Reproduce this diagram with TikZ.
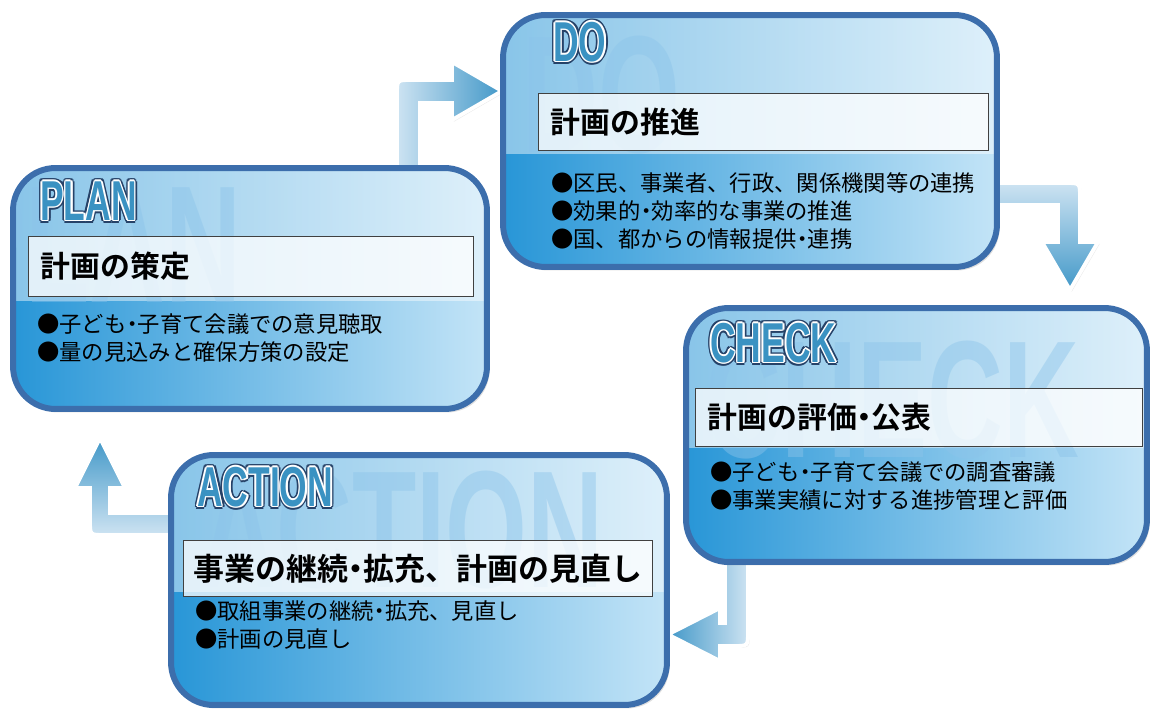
\documentclass[tikz,border=0pt]{standalone}
\usepackage{fontspec}
\setmainfont{Noto Sans CJK JP}[BoldFont={Noto Sans CJK JP Bold}]
\newfontfamily\headfont{Liberation Sans}
\usetikzlibrary{calc,shadows,backgrounds}

\definecolor{boxline}{RGB}{60,110,172}
\definecolor{boxdark}{RGB}{40,150,215}
\definecolor{boxlight}{RGB}{195,228,247}
\definecolor{headfill}{RGB}{58,146,194}
\definecolor{headline}{RGB}{38,66,104}
\definecolor{markblue}{RGB}{140,196,234}
\definecolor{arrowlight}{RGB}{205,227,242}
\definecolor{arrowdark}{RGB}{66,152,200}

\tikzset{
	phasebox/.style={draw=boxline, line width=3.4pt, rounded corners=0.85cm,
		left color=boxdark, right color=boxlight,
		drop shadow={opacity=0.25, shadow xshift=1.5pt, shadow yshift=-2pt},
		path picture={\fill[white, opacity=0.45, sharp corners]
			(path picture bounding box.north west) rectangle
			($(path picture bounding box.north east)!0.55!(path picture bounding box.south east)$);}},
	titlebox/.style={draw=black!75, line width=0.7pt, fill=white, fill opacity=0.75,
		text opacity=1, anchor=north west, inner xsep=0.24cm, inner ysep=0, align=left,
		font=\bfseries\fontsize{17}{17}\selectfont},
	itemlist/.style={anchor=north west, inner sep=0, align=left,
		font=\fontsize{12.7}{15.9}\selectfont},
	watermark/.style={anchor=west, inner sep=0, text=markblue, text opacity=0.45,
		font=\headfont\bfseries\fontsize{95}{95}\selectfont},
	headlabel/.style={anchor=west, inner sep=0,
		font=\headfont\bfseries\fontsize{32}{32}\selectfont},
	arrowpath/.style={draw=white, line width=2.2pt,
		drop shadow={opacity=0.18, shadow xshift=1pt, shadow yshift=-1pt}}
}

% narrow middle dot
\newcommand{\dotsep}{\makebox[0.5em]{・}}

% outlined heading: dark rim, white rim, blue letters
\newcommand{\phasehead}[3]{%
	\foreach \a in {0,30,...,330}
		\path (#2) ++(\a:1.8pt) node[headlabel, text=headline] {\scalebox{0.63}[1]{#3}};
	\foreach \a in {0,45,...,315}
		\path (#2) ++(\a:0.9pt) node[headlabel, text=white] {\scalebox{0.63}[1]{#3}};
	\path (#2) node[headlabel, text=headfill] (#1) {\scalebox{0.63}[1]{#3}};
}

\begin{document}
\begin{tikzpicture}[x=0.02cm, y=-0.02cm]
\useasboundingbox (0,0) rectangle (1161,713);

% the four phases
\path (250,288.5) node[phasebox, minimum width=9.48cm, minimum height=4.82cm] (plan) {}
	(750,141) node[phasebox, minimum width=9.88cm, minimum height=5.04cm] (do) {}
	(916.5,435) node[phasebox, minimum width=9.22cm, minimum height=5.08cm] (check) {}
	(419,580) node[phasebox, minimum width=9.92cm, minimum height=5.0cm] (action) {};

% arrows between the phases
\begin{scope}[on background layer]
	\path[arrowpath, left color=arrowlight, right color=arrowdark]
		($(397,0 |- plan.north)+(0,15)$) -- (397,94) .. controls (397,80) .. (411,80)
		-- (452,80) -- (452,62) -- (502,91) -- (452,120) -- (452,103) -- (420,103)
		-- ($(420,0 |- plan.north)+(0,15)$) -- cycle;
	\path[arrowpath, top color=arrowlight, bottom color=arrowdark]
		($(do.east |- 0,183)+(-15,0)$) -- (1066,183) .. controls (1080,183) .. (1080,197)
		-- (1080,242) -- (1098,242) -- (1070,290) -- (1042,242) -- (1058,242) -- (1058,205)
		-- ($(do.east |- 0,205)+(-15,0)$) -- cycle;
	\path[arrowpath, right color=arrowlight, left color=arrowdark]
		($(748,0 |- check.south)+(0,-15)$) -- (748,632) .. controls (748,646) .. (734,646)
		-- (720,646) -- (720,661) -- (668,634.5) -- (720,608) -- (720,623) -- (725,623)
		-- ($(725,0 |- check.south)+(0,-15)$) -- cycle;
	\path[arrowpath, bottom color=arrowlight, top color=arrowdark]
		($(action.west |- 0,535)+(15,0)$) -- (104,535) .. controls (90,535) .. (90,521)
		-- (90,488) -- (75,488) -- (100,438) -- (125,488) -- (110,488) -- (110,513)
		-- ($(action.west |- 0,513)+(15,0)$) -- cycle;
\end{scope}

% big faint words behind the texts
\begin{scope}
	\clip[rounded corners=0.8cm] ([shift={(3pt,-3pt)}]plan.north west) rectangle ([shift={(-3pt,3pt)}]plan.south east);
	\path (-45,245) node[watermark] (planmark) {\scalebox{0.63}[1]{PLAN}};
\end{scope}
\begin{scope}
	\clip[rounded corners=0.8cm] ([shift={(3pt,-3pt)}]do.north west) rectangle ([shift={(-3pt,3pt)}]do.south east);
	\path (522,95) node[watermark] (domark) {\scalebox{0.63}[1]{DO}};
\end{scope}
\begin{scope}
	\clip[rounded corners=0.8cm] ([shift={(3pt,-3pt)}]check.north west) rectangle ([shift={(-3pt,3pt)}]check.south east);
	\path (705,400) node[watermark] (checkmark) {\scalebox{0.63}[1]{CHECK}};
\end{scope}
\begin{scope}
	\clip[rounded corners=0.8cm] ([shift={(3pt,-3pt)}]action.north west) rectangle ([shift={(-3pt,3pt)}]action.south east);
	\path (200,530) node[watermark] (actionmark) {\scalebox{0.63}[1]{ACTION}};
\end{scope}

% headings
\phasehead{planhead}{40,201}{PLAN}
\phasehead{dohead}{553,42}{DO}
\phasehead{checkhead}{710,343}{CHECK}
\phasehead{actionhead}{197,487}{ACTION}

% titles
\path (28,236) node[titlebox, text width=8.42cm, minimum height=1.2cm] (plantitle) {計画の策定}
	(538,93) node[titlebox, text width=8.52cm, minimum height=1.14cm] (dotitle) {計画の推進}
	(695,388) node[titlebox, text width=8.46cm, minimum height=1.16cm] (checktitle) {計画の評価\dotsep 公表}
	(183,540) node[titlebox, inner xsep=0.2cm, text width=8.98cm, minimum height=1.12cm,
		font=\bfseries\fontsize{17.6}{17.6}\selectfont] (actiontitle) {事業の継続\dotsep 拡充、計画の見直し};

% items
\path (37,313) node[itemlist] (planitems) {●子ども\dotsep 子育て会議での意見聴取\\●量の見込みと確保方策の設定}
	(551,172) node[itemlist] (doitems) {●区民、事業者、行政、関係機関等の連携\\●効果的\dotsep 効率的な事業の推進\\●国、都からの情報提供\dotsep 連携}
	(710,461) node[itemlist] (checkitems) {●子ども\dotsep 子育て会議での調査審議\\●事業実績に対する進捗管理と評価}
	(195,600) node[itemlist] (actionitems) {●取組事業の継続\dotsep 拡充、見直し\\●計画の見直し};
\end{tikzpicture}
\end{document}
